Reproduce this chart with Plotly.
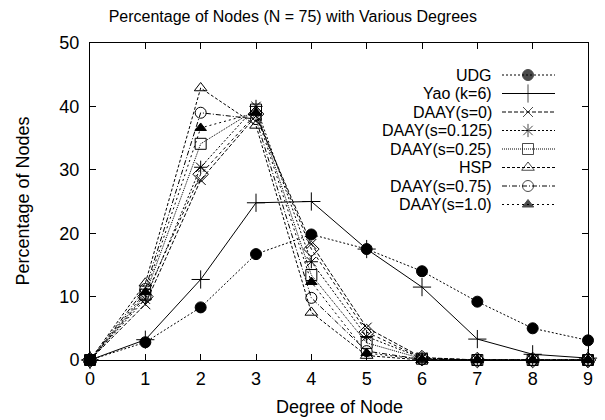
import plotly.graph_objects as go

# ---------------- data ----------------
degrees = [0, 1, 2, 3, 4, 5, 6, 7, 8, 9]
udg      = [0, 2.8, 8.3, 16.7, 19.8, 17.5, 14.0, 9.2, 5.0, 3.1]
yao      = [0, 3.2, 12.7, 24.8, 25.0, 17.5, 11.5, 3.3, 0.9, 0.3]
daay_0   = [0, 8.8, 28.4, 38.5, 18.3, 5.1, 0.4, 0, 0, 0]
daay_125 = [0, 9.6, 30.4, 40.0, 15.5, 3.7, 0.3, 0, 0, 0]
daay_25  = [0, 10.3, 34.1, 39.5, 13.4, 2.7, 0.2, 0, 0, 0]
daay_5   = [0, 10.0, 29.3, 38.8, 17.5, 4.4, 0.3, 0, 0, 0]
hsp      = [0, 12.1, 42.9, 37.0, 7.5, 0.7, 0.0, 0, 0, 0]
daay_75  = [0, 11.2, 39.0, 38.0, 9.8, 1.4, 0.1, 0, 0, 0]
daay_1   = [0, 10.7, 36.6, 39.0, 12.3, 1.1, 0.1, 0, 0, 0]

x_ticks = [0, 1, 2, 3, 4, 5, 6, 7, 8, 9]
y_ticks = [0, 10, 20, 30, 40, 50]

title_text = "Percentage of Nodes (N = 75) with Various Degrees"
x_title = "Degree of Node"
y_title = "Percentage of Nodes"

# (label, values, symbol, size, dash, in_legend)
series = [
    ("UDG", udg, "circle", 11, "2px,2px", True),
    ("Yao (k=6)", yao, "cross-thin", 13, "solid", True),
    ("DAAY(s=0)", daay_0, "x-thin", 10, "4px,2px", True),
    ("DAAY(s=0.125)", daay_125, "asterisk", 11, "2px,2px", True),
    ("DAAY(s=0.25)", daay_25, "square-open", 11, "1px,1px", True),
    ("DAAY(s=0.5)", daay_5, "diamond-open", 12, "3px,3px", False),
    ("HSP", hsp, "triangle-up-open", 11, "3px,2px", True),
    ("DAAY(s=0.75)", daay_75, "circle-open", 11, "5px,2px,1px,2px", True),
    ("DAAY(s=1.0)", daay_1, "triangle-up", 10, "2px,3px", True),
]

FONT = "Liberation Sans, Arial, Helvetica, sans-serif"
fig = go.Figure()

for name, vals, sym, sz, dash, _ in series:
    fig.add_trace(go.Scatter(
        x=degrees, y=vals, mode="lines+markers", name=name, showlegend=False,
        line=dict(color="black", width=1, dash=dash),
        marker=dict(symbol=sym, size=sz, color="black",
                    line=dict(color="black", width=1)),
        cliponaxis=False,
    ))

# custom gnuplot-style legend (text right-aligned, sample to the right)
leg_text_x = 493
leg_x0, leg_xm, leg_x1 = 502, 528, 555
leg_y0, leg_dy = 75, 18.5
row = 0
for name, vals, sym, sz, dash, show in series:
    if not show:
        continue
    yy = leg_y0 + row * leg_dy
    fig.add_trace(go.Scatter(
        x=[leg_x0, leg_xm, leg_x1], y=[yy, yy, yy], xaxis="x2", yaxis="y2",
        mode="lines+markers", showlegend=False, hoverinfo="skip",
        line=dict(color="black", width=1, dash=dash),
        marker=dict(symbol=sym, size=[0, sz, 0], color="black",
                    line=dict(color="black", width=[0, 1, 0])),
    ))
    fig.add_annotation(x=leg_text_x, y=yy, xref="x2", yref="y2", text=name,
                       showarrow=False, xanchor="right", yanchor="middle",
                       borderpad=0,
                       font=dict(family=FONT, size=16, color="black"))
    row += 1

# axis titles
fig.add_annotation(x=0.5, y=-0.148, xref="paper", yref="paper", text=x_title,
                   showarrow=False, xanchor="center", yanchor="middle",
                   font=dict(family=FONT, size=18, color="black"))
fig.add_annotation(x=-0.1365, y=0.5, xref="paper", yref="paper", text=y_title,
                   showarrow=False, xanchor="center", yanchor="middle", textangle=-90,
                   font=dict(family=FONT, size=18, color="black"))

fig.update_layout(
    width=605, height=420,
    margin=dict(l=90, r=17, t=43, b=60),
    paper_bgcolor="white", plot_bgcolor="white",
    showlegend=False,
    font=dict(family=FONT, size=18, color="black"),
    title=dict(text=title_text, x=0.484, xref="container", y=0.960, yref="container",
               xanchor="center", yanchor="middle",
               font=dict(family=FONT, size=16, color="black")),
    xaxis=dict(range=[0, 9], tickvals=x_ticks, ticks="inside", ticklen=6,
               tickwidth=1, tickcolor="black", showline=True, linecolor="black",
               linewidth=1, mirror="ticks", showgrid=False, zeroline=False,
               tickfont=dict(size=18), ticklabelstandoff=2),
    yaxis=dict(range=[0, 50], tickvals=y_ticks, ticks="inside", ticklen=6,
               tickwidth=1, tickcolor="black", showline=True, linecolor="black",
               linewidth=1, mirror="ticks", showgrid=False, zeroline=False,
               tickfont=dict(size=18), ticklabelstandoff=6),
    xaxis2=dict(range=[90, 588], overlaying="x", visible=False),
    yaxis2=dict(range=[360, 43], overlaying="y", visible=False),
)

fig.write_html("out.html")
